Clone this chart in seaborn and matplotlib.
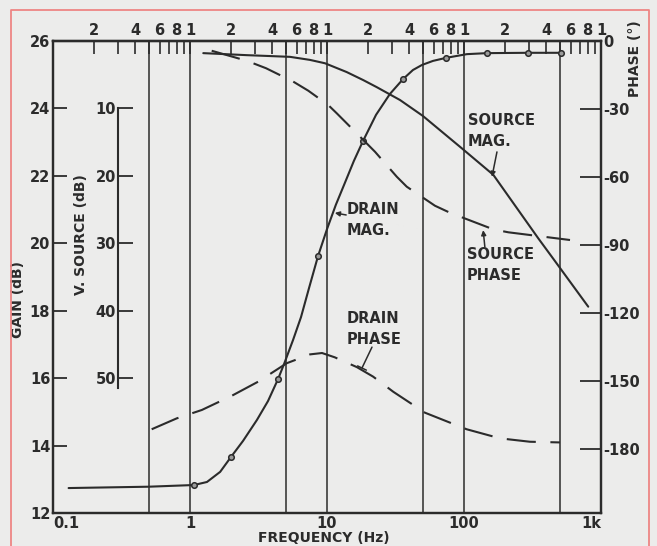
import matplotlib.pyplot as plt
import seaborn as sns
from matplotlib.lines import Line2D
from matplotlib.ticker import NullFormatter, NullLocator

# values
grid_freqs = [0.5, 1, 5, 10, 50, 100, 500]

# drain magnitude (gain, dB)
drain_mag_freq = [0.13, 0.5, 1.07, 1.33, 1.66, 1.99, 2.44, 3.08, 3.71, 4.39, 4.86, 5.65, 6.46,
                  7.39, 8.6, 10.0, 11.6, 13.5, 15.7, 18.3, 22.8, 28.8, 35.9, 42.4, 49.4, 59.4,
                  73.9, 105, 147, 292, 510]
drain_mag_gain = [12.74, 12.78, 12.83, 12.92, 13.22, 13.66, 14.14, 14.76, 15.32, 15.97, 16.42,
                  17.13, 17.81, 18.67, 19.62, 20.42, 21.14, 21.79, 22.44, 23.03, 23.81, 24.43,
                  24.87, 25.14, 25.29, 25.41, 25.50, 25.61, 25.64, 25.65, 25.65]
# measured points (circles)
drain_pts_freq = [1.07, 1.99, 4.39, 8.6, 18.3, 35.9, 73.9, 147, 292, 510]
drain_pts_gain = [12.83, 13.66, 15.97, 19.62, 23.03, 24.87, 25.50, 25.64, 25.65, 25.65]

# source magnitude
source_mag_freq = [1.25, 2.6, 5.37, 7.5, 9.66, 13.9, 18.4, 23.1, 34.1, 50, 96.2, 163.7, 348, 456, 807]
source_mag_gain = [25.64, 25.58, 25.53, 25.44, 25.34, 25.08, 24.84, 24.63, 24.25, 23.78, 22.82,
                   22.03, 20.15, 19.5, 18.12]

# phases (degrees)
source_ph_freq = [1.44, 2.59, 3.59, 5.67, 7.30, 10.2, 11.8, 16.3, 22.4, 32.3, 38.2, 61.4, 79.1,
                  163.7, 210.6, 594]
source_ph_deg = [-4.3, -8.7, -12.0, -17.9, -21.9, -28.2, -31.9, -40.4, -48.8, -59.8, -64.2,
                 -72.6, -75.7, -83.0, -84.3, -87.7]

drain_ph_freq = [0.525, 0.80, 1.22, 2.01, 3.15, 5.08, 7.52, 9.2, 11.4, 16.5, 21.7, 30.5, 51.9,
                 104.6, 183, 303, 502]
drain_ph_deg = [-171.1, -166.3, -162.6, -156.4, -150.1, -142.0, -138.1, -137.5, -139.4, -143.7,
                -147.9, -154.6, -163.8, -171.1, -175.1, -176.6, -176.9]

gain_ticks = [12, 14, 16, 18, 20, 22, 24, 26]
phase_ticks = [-180, -150, -120, -90, -60, -30, 0]
vsource_ticks = [10, 20, 30, 40, 50]

sns.set_style('white')
plt.rcParams['font.family'] = ['DejaVu Sans']
plt.rcParams['font.weight'] = 'bold'
plt.rcParams['axes.labelweight'] = 'bold'

ink = '#2b2b2b'
paper = '#ececeb'
fs = 10.5

fig = plt.figure(figsize=(6.57, 5.46), dpi=100, facecolor=paper)
ax = fig.add_axes([53 / 657, 33 / 546, 548 / 657, 472 / 546])
ax.set_facecolor(paper)
ax.set_xscale('log')
ax.set_xlim(0.1, 1000)
ax.set_ylim(12, 26)

for f in grid_freqs:
    ax.axvline(f, color=ink, lw=1.1, zorder=1)

# magnitude curves
sns.lineplot(x=drain_mag_freq, y=drain_mag_gain, ax=ax, color=ink, lw=1.5,
             sort=False, estimator=None, zorder=3)
sns.scatterplot(x=drain_pts_freq, y=drain_pts_gain, ax=ax, s=16, color='#9a9a9a',
                edgecolor=ink, linewidth=1.1, zorder=4)
sns.lineplot(x=source_mag_freq, y=source_mag_gain, ax=ax, color=ink, lw=1.5,
             sort=False, estimator=None, zorder=3)

# phase on the right
ph = ax.twinx()
ph.set_ylim(-208, 0)
sns.lineplot(x=source_ph_freq, y=source_ph_deg, ax=ph, color=ink, lw=1.5,
             linestyle=(0, (14, 7)), sort=False, estimator=None)
sns.lineplot(x=drain_ph_freq, y=drain_ph_deg, ax=ph, color=ink, lw=1.5,
             linestyle=(0, (14, 7)), sort=False, estimator=None)

for a in (ax, ph):
    for s in a.spines.values():
        s.set_color(ink)
        s.set_linewidth(1.6)

# left gain axis
ax.set_yticks(gain_ticks)
ax.tick_params(axis='y', direction='in', length=10, width=1.3, pad=2,
               labelsize=fs, colors=ink)
ax.set_ylabel('GAIN (dB)', fontsize=10, color=ink)
ax.yaxis.set_label_coords(-0.051, 0.453)

# bottom frequency axis
decades = [0.1, 1, 10, 100]
minor = [d * m for d in decades for m in range(2, 10)]
ax.set_xticks([0.1, 1, 10, 100, 1000], labels=['0.1', '1', '10', '100', '1k'])
ax.set_xticks(minor, minor=True)
ax.xaxis.set_minor_formatter(NullFormatter())
ax.tick_params(axis='x', which='major', length=0, pad=2.5, labelsize=fs, colors=ink)
ax.tick_params(axis='x', which='minor', direction='in', length=8, width=1.2, colors=ink)
xl = ax.get_xticklabels()
xl[0].set_ha('left')
xl[-1].set_ha('right')
ax.set_xlabel('FREQUENCY (Hz)', fontsize=10, color=ink)
ax.xaxis.set_label_coords(0.4945, -0.039)

# top: log cycle marks
top_pos, top_lab = [], []
for d in decades:
    for m in range(2, 10):
        top_pos.append(d * m)
        top_lab.append(str(m) if m in (2, 4, 6, 8) else '')
    top_pos.append(d * 10)
    top_lab.append('1')
top = ax.secondary_xaxis('top')
top.set_ticks(top_pos, labels=top_lab)
top.xaxis.set_minor_locator(NullLocator())
top.tick_params(axis='x', direction='in', length=9.5, width=1.2, pad=2.5,
                labelsize=fs, colors=ink)
top.spines['top'].set_color(ink)
top.spines['top'].set_linewidth(1.6)

# right phase axis
ph.set_yticks(phase_ticks, labels=[str(t) for t in phase_ticks])
ph.tick_params(axis='y', direction='in', length=15, width=1.3, pad=1.5,
               labelsize=fs, colors=ink)
ph.set_ylabel('PHASE (°)', fontsize=10, color=ink)
ph.yaxis.set_label_coords(1.05, 0.962)

# inner V. SOURCE scale
vs = ax.secondary_yaxis((118 - 53) / 548,
                        functions=(lambda g: 10 + (24 - g) * 5,
                                   lambda v: 24 - (v - 10) / 5))
vs.set_ticks(vsource_ticks)
vs.tick_params(axis='y', direction='in', length=11, width=1.3, pad=1.5,
               labelsize=fs, colors=ink)
vs.spines['left'].set_bounds(10, 51.5)
vs.spines['left'].set_color(ink)
vs.spines['left'].set_linewidth(1.5)
vs.set_ylabel('V. SOURCE (dB)', fontsize=10, color=ink)
vs.yaxis.set_label_coords(0.064, 0.589, transform=ax.transAxes)

# curve labels
txt = dict(fontsize=fs, color=ink, ha='left', va='center', linespacing=1.55, zorder=6)
arr = dict(arrowstyle='-|>', color=ink, lw=1.1, mutation_scale=7, shrinkA=0, shrinkB=0)
ax.text(107, 23.33, 'SOURCE\nMAG.', **txt)
ax.annotate('', xy=(160, 21.97), xytext=(174, 22.71), arrowprops=arr)
ax.text(105, 19.36, 'SOURCE\nPHASE', **txt)
ax.annotate('', xy=(138, 20.39), xytext=(142, 19.89), arrowprops=arr)
ax.text(14.0, 20.69, 'DRAIN\nMAG.', **txt)
ax.annotate('', xy=(11.4, 20.90), xytext=(13.8, 20.84), arrowprops=arr)
ax.text(13.8, 17.46, 'DRAIN\nPHASE', **txt)
ax.annotate('', xy=(18.0, 16.30), xytext=(21.3, 16.92),
            arrowprops=dict(arrowstyle='-[, widthB=0.35, lengthB=0', color=ink,
                            lw=1.1, shrinkA=0, shrinkB=0))

# page frame
x0, x1, y1 = 10.5 / 657, 649 / 657, 1 - 10 / 546
fig.add_artist(Line2D([x0, x0, x1, x1], [0, y1, y1, 0], transform=fig.transFigure,
                      color='#ee8585', lw=1.3))

fig.savefig('out.png', dpi=100, facecolor=paper)
